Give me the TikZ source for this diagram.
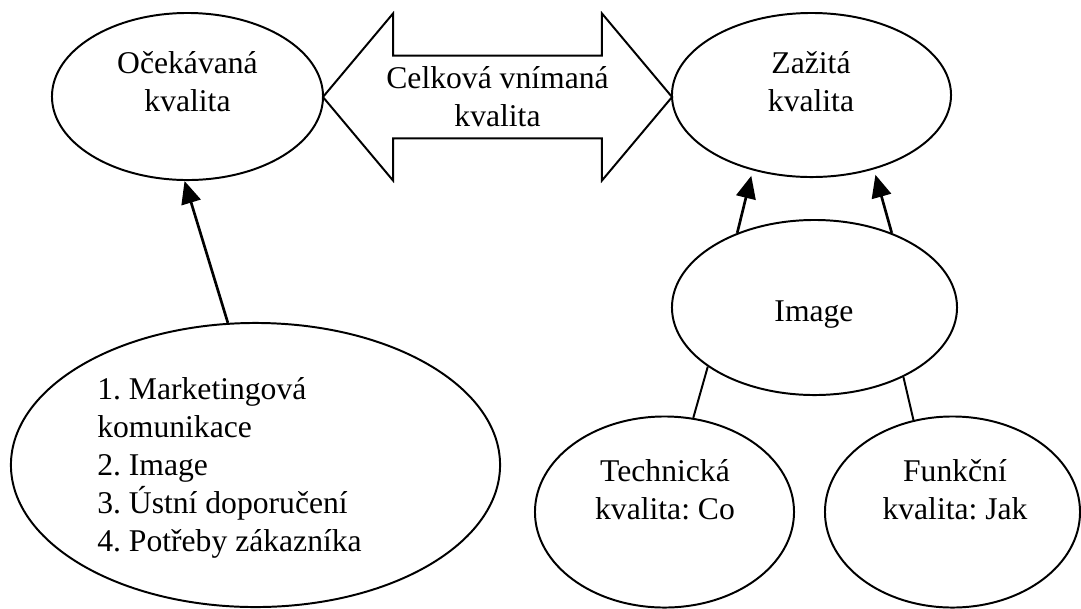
\documentclass[tikz,border=0pt]{standalone}
\usepackage{fontspec}
\setmainfont{Liberation Serif}
\usetikzlibrary{shapes.geometric,shapes.arrows,arrows.meta}
\frenchspacing

\begin{document}
\begin{tikzpicture}[x=0.025cm,y=-0.025cm]
%styles
\tikzstyle{bubble}=[ellipse, draw, line width=1.4pt, inner sep=0pt]
\tikzstyle{textw}=[inner sep=0pt, text=black, align=center, font=\fontsize{22.5}{27}\selectfont]
\tikzstyle{bigArrow}=[double arrow, draw, line width=1.4pt, minimum height=8.725cm, minimum width=4.175cm, double arrow head extend=1.025cm, double arrow tip angle=100]
\tikzstyle{vector}=[-{Triangle[length=16pt,width=14pt]}, line width=1.9pt]
\tikzstyle{link}=[line width=1.4pt]
\useasboundingbox (0,0) rectangle (1081,608);
%figure
\node[bubble, minimum width=6.775cm, minimum height=4.175cm] (oce) at (187.5,96.5) {};
\node[bubble, minimum width=6.975cm, minimum height=4.1cm] (zaz) at (811.5,95) {};
\node[bubble, minimum width=7.125cm, minimum height=4.375cm] (img) at (814.5,307.5) {};
\node[bubble, minimum width=12.225cm, minimum height=7.1cm] (big) at (255.5,465) {};
\node[bubble, minimum width=6.475cm, minimum height=4.775cm] (tech) at (664.5,512) {};
\node[bubble, minimum width=6.375cm, minimum height=4.775cm] (funk) at (952.5,512) {};
\node[bigArrow, textw, inner xsep=0pt, inner ysep=6.5pt] (celk) at (497.5,97) {Celková vnímaná\\kvalita};
%text
\node[textw] (oceT) at (187.5,82) {Očekávaná\\kvalita};
\node[textw] (zazT) at (811,82) {Zažitá\\kvalita};
\node[textw, anchor=base] (imgT) at (814,321) {Image};
\node[textw] (techT) at (665,490) {Technická\\kvalita: Co};
\node[textw] (funkT) at (955,490) {Funkční\\kvalita: Jak};
\node[textw, align=left, anchor=west] (bigT) at (97,468) {1. Marketingová\\komunikace\\2. Image\\3. Ústní doporučení\\4. Potřeby zákazníka};
%vecteur
\draw[vector] (big.101.6) -- (oce.268);
\draw[vector, shorten >=4pt] (img.136) -- (zaz.232);
\draw[vector, shorten >=4pt] (img.44) -- (zaz.310);
\draw[link] (img.209) -- (tech.73);
\draw[link] (img.322) -- (funk.113);
\end{tikzpicture}
\end{document}
